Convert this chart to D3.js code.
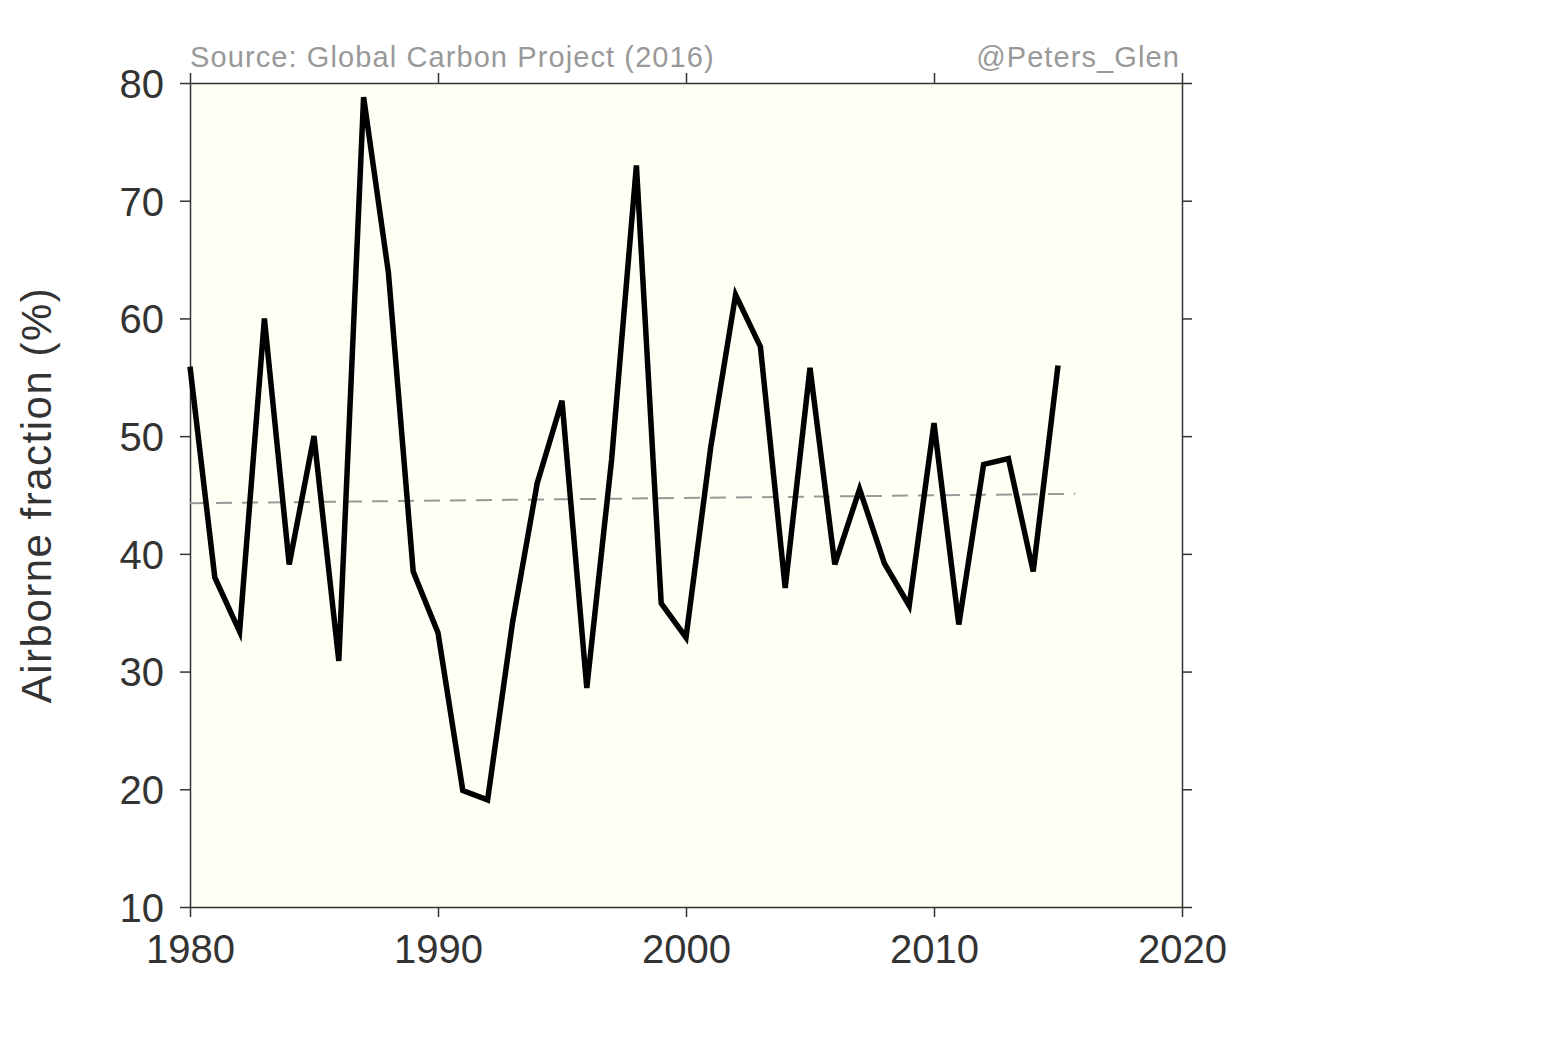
<!DOCTYPE html>
<html>
<head>
<meta charset="utf-8">
<script src="https://cdn.jsdelivr.net/npm/d3@7"></script>
<style>
  body { margin: 0; background: #fff; }
  svg text { font-family: "Liberation Sans", Arial, Helvetica, sans-serif; }
</style>
</head>
<body>
<svg id="chart" width="1564" height="1041"></svg>
<script>
// airborne fraction per year (%)
const years = d3.range(1980, 2016);
const airborne = [55.9, 38.0, 33.4, 60.0, 39.1, 50.0, 30.9, 78.8, 63.9, 38.5,
                  33.3, 19.9, 19.1, 34.1, 46.0, 53.0, 28.6, 48.0, 73.0, 35.8,
                  32.9, 49.1, 62.0, 57.6, 37.1, 55.8, 39.1, 45.5, 39.2, 35.6,
                  51.1, 34.0, 47.6, 48.1, 38.5, 56.0];
// linear trend line endpoints
const trendYears = [1980, 2015.7];
const trendValues = [44.3, 45.1];

const xTicks = [1980, 1990, 2000, 2010, 2020];
const yTicks = [10, 20, 30, 40, 50, 60, 70, 80];

const svg = d3.select("#chart");
const margin = { top: 83, right: 382, bottom: 134, left: 190 };
const width = 1564 - margin.left - margin.right;
const height = 1041 - margin.top - margin.bottom;

const g = svg.append("g")
  .attr("transform", `translate(${margin.left},${margin.top})`);

const x = d3.scaleLinear().domain([1980, 2020]).range([0, width]);
const y = d3.scaleLinear().domain([10, 80]).range([height, 0]);

g.append("rect")
  .attr("width", width)
  .attr("height", height)
  .attr("fill", "#fffff5");

const styleAxis = sel => {
  sel.select(".domain").attr("stroke", "#333").attr("stroke-width", 1.5);
  sel.selectAll(".tick line").attr("stroke", "#333").attr("stroke-width", 1.5);
  sel.selectAll(".tick text")
    .attr("fill", "#333")
    .style("font-size", "40px");
};

g.append("g")
  .attr("transform", `translate(0,${height})`)
  .call(d3.axisBottom(x).tickValues(xTicks).tickFormat(d3.format("d")).tickSize(10).tickSizeOuter(0).tickPadding(18))
  .call(styleAxis);

g.append("g")
  .call(d3.axisLeft(y).tickValues(yTicks).tickSize(10).tickSizeOuter(0).tickPadding(16))
  .call(styleAxis)
  .selectAll(".tick text").attr("dy", "0.36em");

g.append("g")
  .call(d3.axisTop(x).tickValues(xTicks).tickFormat("").tickSize(10).tickSizeOuter(0))
  .call(styleAxis);

g.append("g")
  .attr("transform", `translate(${width},0)`)
  .call(d3.axisRight(y).tickValues(yTicks).tickFormat("").tickSize(10).tickSizeOuter(0))
  .call(styleAxis);

// trend
g.append("path")
  .datum(trendYears.map((yr, i) => [yr, trendValues[i]]))
  .attr("fill", "none")
  .attr("stroke", "#999")
  .attr("stroke-width", 2)
  .attr("stroke-dasharray", "16,10")
  .attr("d", d3.line().x(d => x(d[0])).y(d => y(d[1])));

// airborne fraction
g.append("path")
  .datum(years.map((yr, i) => [yr, airborne[i]]))
  .attr("fill", "none")
  .attr("stroke", "#000")
  .attr("stroke-width", 5.5)
  .attr("stroke-linejoin", "miter")
  .attr("d", d3.line().x(d => x(d[0])).y(d => y(d[1])));

g.append("text")
  .attr("x", 0)
  .attr("y", -16)
  .attr("fill", "#999")
  .style("font-size", "29px")
  .style("letter-spacing", "1.1px")
  .text("Source: Global Carbon Project (2016)");

g.append("text")
  .attr("x", width - 2)
  .attr("y", -16)
  .attr("text-anchor", "end")
  .attr("fill", "#999")
  .style("font-size", "29px")
  .style("letter-spacing", "1.1px")
  .text("@Peters_Glen");

svg.append("text")
  .attr("text-anchor", "middle")
  .attr("transform", `translate(51,${margin.top + height / 2 - 0}) rotate(-90)`)
  .attr("fill", "#333")
  .style("font-size", "42px")
  .style("letter-spacing", "1.5px")
  .text("Airborne fraction (%)");
</script>
</body>
</html>
